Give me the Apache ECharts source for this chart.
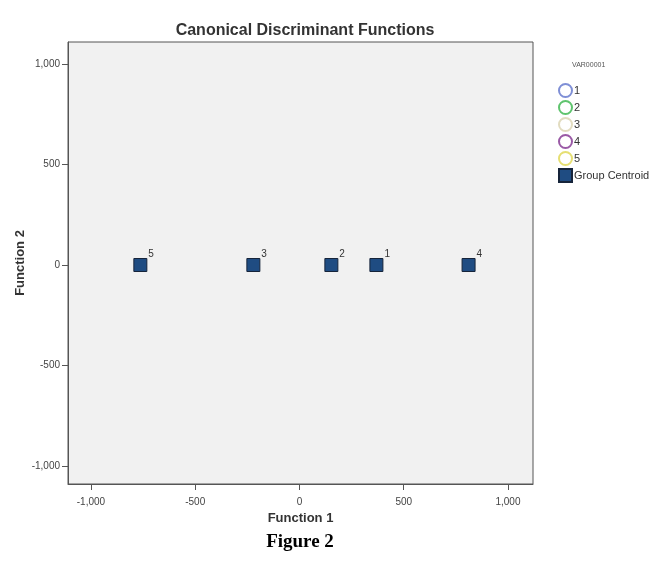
<!DOCTYPE html>
<html><head><meta charset="utf-8">
<script src="https://cdn.jsdelivr.net/npm/echarts@6/dist/echarts.min.js"></script>
<style>html,body{margin:0;padding:0;background:#fff}#c{width:655px;height:571px}</style>
</head><body><div id="c"></div>
<script>
const groups = ['1','2','3','4','5'];
const groupColors = ['#7f8fd6','#5fc46e','#e2dcc0','#9a5aa6','#e6df72'];
const centroidLabels = ['1','2','3','4','5'];
const centroidX = [369, 153, -221, 811, -763];
const centroidY = [0, 0, 0, 0, 0];
const tickValues = [-1000, -500, 0, 500, 1000];
const tickLabels = ['-1,000','-500','0','500','1,000'];

const chart = echarts.init(document.getElementById('c'));
const fmt = v => tickLabels[tickValues.indexOf(v)] ?? '';
const series = groups.map((g,i)=>({
  name:g, type:'scatter', data:[], symbol:'emptyCircle', symbolSize:10,
  itemStyle:{color:groupColors[i], opacity:1}
}));
series.push({
  name:'Group Centroid', type:'scatter', symbol:'rect', symbolSize:13,
  itemStyle:{color:'#1f4c82', borderColor:'#16243a', borderWidth:1, opacity:1},
  label:{show:true, position:[15,-9], formatter:p=>p.data[2], fontSize:10, color:'#333', fontFamily:'Liberation Sans'},
  data: centroidX.map((x,i)=>[x, centroidY[i], centroidLabels[i]]),
  z:5
});
chart.setOption({
  animation:false,
  title:{text:'Canonical Discriminant Functions', left:300, top:18, textAlign:'center',
    textStyle:{fontFamily:'Liberation Sans', fontWeight:'bold', fontSize:16, color:'#333'}},
  grid:{left:68, right:122, top:42, bottom:87, show:true, backgroundColor:'#f1f1f1', borderColor:'#555', borderWidth:1},
  xAxis:{type:'value', min:-1110, max:1120, splitLine:{show:false},
    axisLine:{show:true, onZero:false, lineStyle:{color:'#555'}},
    axisTick:{show:true, customValues:tickValues, length:6, lineStyle:{color:'#555'}},
    axisLabel:{customValues:tickValues, formatter:fmt, fontSize:10, color:'#444', fontFamily:'Liberation Sans', margin:13},
    name:'Function 1', nameLocation:'middle', nameGap:28,
    nameTextStyle:{fontFamily:'Liberation Sans', fontWeight:'bold', fontSize:13, color:'#333'}},
  yAxis:{type:'value', min:-1090, max:1110, splitLine:{show:false},
    axisLine:{show:true, onZero:false, lineStyle:{color:'#555'}},
    axisTick:{show:true, customValues:tickValues, length:6, lineStyle:{color:'#555'}},
    axisLabel:{customValues:tickValues, formatter:fmt, fontSize:10, color:'#444', fontFamily:'Liberation Sans', margin:8},
    name:'Function 2', nameLocation:'middle', nameGap:41, nameMoveOverlap:false,
    nameTextStyle:{fontFamily:'Liberation Sans', fontWeight:'bold', fontSize:13, color:'#333'}},
  legend:{orient:'vertical', left:553, top:78, itemWidth:13, itemHeight:13, itemGap:2,
    textStyle:{fontSize:11, color:'#333', fontFamily:'Liberation Sans', padding:[0,0,0,-3]},
    data:[...groups,'Group Centroid']},
  graphic:[
    {type:'text', left:572, top:62, style:{text:'VAR00001', fontSize:7, fill:'#555', fontFamily:'Liberation Sans'}},
    {type:'text', x:300, y:533, style:{text:'Figure 2', font:'bold 19px "Liberation Serif"', fill:'#000', align:'center'}}
  ],
  series
});
</script></body></html>
